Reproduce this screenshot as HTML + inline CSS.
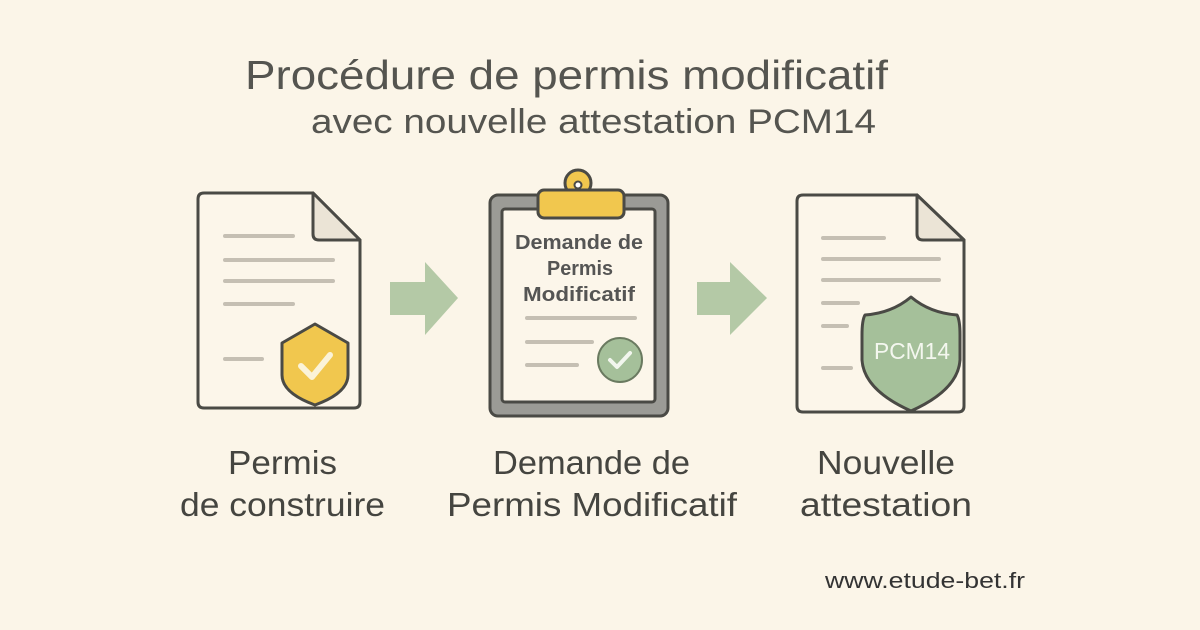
<!DOCTYPE html>
<html><head><meta charset="utf-8"><style>
html,body{margin:0;padding:0;background:#fbf5e8;}
svg{display:block;}
text{font-family:"Liberation Sans","DejaVu Sans",sans-serif;}
</style></head><body>
<svg width="1200" height="630" viewBox="0 0 1200 630" xmlns="http://www.w3.org/2000/svg">
<rect width="1200" height="630" fill="#fbf5e8"/>
<!-- Title -->
<text x="245" y="89" font-size="41" fill="#555550" textLength="643" lengthAdjust="spacingAndGlyphs">Procédure de permis modificatif</text>
<text x="311" y="133" font-size="34" fill="#555550" textLength="565" lengthAdjust="spacingAndGlyphs">avec nouvelle attestation PCM14</text>

<!-- Doc 1 -->
<path d="M204 193 H313 L360 240 V402 Q360 408 354 408 H204 Q198 408 198 402 V199 Q198 193 204 193 Z" fill="#fcf6ea" stroke="#4a4a45" stroke-width="3"/>
<path d="M313 193 V234 Q313 240 319 240 H360 Z" fill="#ebe4d6" stroke="#4a4a45" stroke-width="3" stroke-linejoin="round"/>
<g stroke="#c5bfb3" stroke-width="4" stroke-linecap="round">
<line x1="225" y1="236" x2="293" y2="236"/><line x1="225" y1="260" x2="333" y2="260"/>
<line x1="225" y1="281" x2="333" y2="281"/><line x1="225" y1="304" x2="293" y2="304"/>
<line x1="225" y1="359" x2="262" y2="359"/></g>
<path d="M315 324 L348 343 V375 Q348 393 315 405 Q282 393 282 375 V343 Z" fill="#f1c74e" stroke="#4a4a45" stroke-width="3" stroke-linejoin="round"/>
<path d="M301 366 L312 377 L330 355" fill="none" stroke="#fbf3d8" stroke-width="6" stroke-linecap="round" stroke-linejoin="round"/>

<!-- Arrow 1 -->
<path d="M390 282 H425 V262 L458 298 L425 335 V315 H390 Z" fill="#b4c9a6"/>

<!-- Clipboard -->
<rect x="490" y="195" width="178" height="221" rx="8" fill="#9b9b96" stroke="#4a4a45" stroke-width="3"/>
<rect x="502" y="209" width="153" height="193" rx="3" fill="#fcf6ea" stroke="#4a4a45" stroke-width="3"/>
<circle cx="578" cy="183" r="13" fill="#f1c74e" stroke="#4a4a45" stroke-width="3"/>
<rect x="538" y="190" width="86" height="28" rx="6" fill="#f1c74e" stroke="#4a4a45" stroke-width="3"/>
<circle cx="578" cy="185" r="3.5" fill="#fff" stroke="#4a4a45" stroke-width="2"/>
<g font-size="20" fill="#444" font-weight="bold" opacity="0.9">
<text x="515" y="249" textLength="128" lengthAdjust="spacingAndGlyphs">Demande de</text>
<text x="547" y="275" textLength="66" lengthAdjust="spacingAndGlyphs">Permis</text>
<text x="523" y="301" textLength="112" lengthAdjust="spacingAndGlyphs">Modificatif</text>
</g>
<g stroke="#c5bfb3" stroke-width="4" stroke-linecap="round">
<line x1="527" y1="318" x2="635" y2="318"/><line x1="527" y1="342" x2="592" y2="342"/>
<line x1="527" y1="365" x2="577" y2="365"/></g>
<circle cx="620" cy="360" r="22" fill="#a5c09a" stroke="#6a7a60" stroke-width="2"/>
<path d="M610 360 L617 367 L630 353" fill="none" stroke="#f2f6ee" stroke-width="4" stroke-linecap="round" stroke-linejoin="round"/>

<!-- Arrow 2 -->
<path d="M697 282 H730 V262 L767 298 L730 335 V315 H697 Z" fill="#b4c9a6"/>

<!-- Doc 3 -->
<path d="M803 195 H917 L964 240 V406 Q964 412 958 412 H803 Q797 412 797 406 V201 Q797 195 803 195 Z" fill="#fcf6ea" stroke="#4a4a45" stroke-width="3"/>
<path d="M917 195 V234 Q917 240 923 240 H964 Z" fill="#ebe4d6" stroke="#4a4a45" stroke-width="3" stroke-linejoin="round"/>
<g stroke="#c5bfb3" stroke-width="4" stroke-linecap="round">
<line x1="823" y1="238" x2="884" y2="238"/><line x1="823" y1="259" x2="939" y2="259"/>
<line x1="823" y1="280" x2="939" y2="280"/><line x1="823" y1="303" x2="858" y2="303"/>
<line x1="823" y1="326" x2="847" y2="326"/><line x1="823" y1="368" x2="851" y2="368"/></g>
<path d="M911 297 Q930 313 957 315 Q960 320 960 335 V360 Q958 390 911 411 Q864 390 862 360 V335 Q862 320 865 315 Q892 313 911 297 Z" fill="#a5c09a" stroke="#4a4a45" stroke-width="3" stroke-linejoin="round"/>
<text x="874" y="359" font-size="23" fill="#f4f7ef" textLength="76" lengthAdjust="spacingAndGlyphs">PCM14</text>

<!-- Labels -->
<g font-size="33" fill="#454540">
<text x="228" y="474" textLength="109" lengthAdjust="spacingAndGlyphs">Permis</text>
<text x="180" y="516" textLength="205" lengthAdjust="spacingAndGlyphs">de construire</text>
<text x="493" y="474" textLength="197" lengthAdjust="spacingAndGlyphs">Demande de</text>
<text x="447" y="516" textLength="290" lengthAdjust="spacingAndGlyphs">Permis Modificatif</text>
<text x="817" y="474" textLength="138" lengthAdjust="spacingAndGlyphs">Nouvelle</text>
<text x="800" y="516" textLength="172" lengthAdjust="spacingAndGlyphs">attestation</text>
</g>
<text x="825" y="588" font-size="22" fill="#333" textLength="200" lengthAdjust="spacingAndGlyphs">www.etude-bet.fr</text>
</svg>
</body></html>
